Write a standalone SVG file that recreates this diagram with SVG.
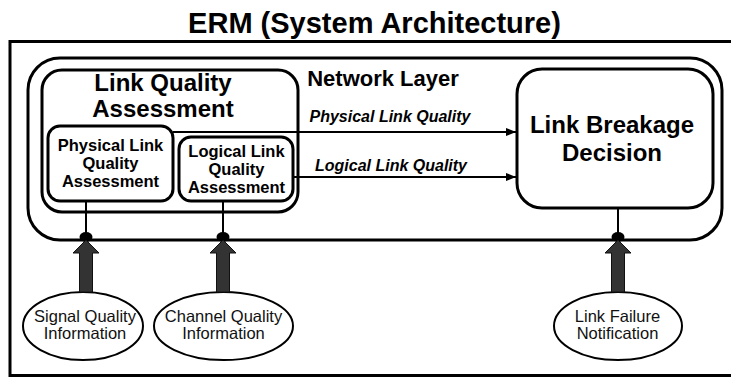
<svg xmlns="http://www.w3.org/2000/svg" width="731" height="378" viewBox="0 0 731 378">
  <style>
    .box { fill: #fff; stroke: #000; stroke-width: 3; }
    .frame { fill: none; stroke: #000; stroke-width: 3; }
    .link { fill: none; stroke: #000; stroke-width: 2; }
    .src { fill: #fff; stroke: #000; stroke-width: 2; }
    .feed { fill: #333; stroke: #111; stroke-width: 1; }
    .dot { fill: #000; }
    text { font-family: "Liberation Sans", Arial, sans-serif; fill: #000; text-anchor: middle; }
    .title { font-size: 29px; font-weight: bold; }
    .big { font-size: 24px; font-weight: bold; }
    .layer { font-size: 22px; font-weight: bold; }
    .small { font-size: 16.5px; font-weight: bold; }
    .flow { font-size: 16px; font-weight: bold; font-style: italic; }
    .info { font-size: 16.5px; fill: #111; }
  </style>
  <defs>
    <marker id="arrow" markerWidth="10" markerHeight="8" refX="10" refY="4" orient="auto" markerUnits="userSpaceOnUse">
      <path d="M0,0 L10,4 L0,8 Z" fill="#000"/>
    </marker>
    <path id="feedArrow" d="M-6.5,0 L-6.5,-39 L-13,-39 L0,-52 L13,-39 L6.5,-39 L6.5,0 Z"/>
  </defs>

  <text class="title" x="374.5" y="33">ERM (System Architecture)</text>

  <!-- outer system frame (runs past the right edge) -->
  <rect class="frame" x="10" y="41.5" width="740" height="334"/>

  <!-- network layer -->
  <g id="network-layer">
    <rect class="frame" x="28" y="58" width="694" height="182" rx="32" ry="32"/>
    <text class="layer" x="383" y="86">Network Layer</text>
  </g>

  <g id="link-quality-assessment">
    <rect class="box" x="42" y="70" width="256" height="142" rx="20" ry="20"/>
    <text class="big" x="163" y="91">Link Quality</text>
    <text class="big" x="163" y="117">Assessment</text>
  </g>

  <g id="physical-lqa">
    <rect class="box" x="48" y="126" width="125" height="75" rx="12" ry="12"/>
    <text class="small" x="110.5" y="151">Physical Link</text>
    <text class="small" x="110.5" y="169">Quality</text>
    <text class="small" x="110.5" y="187">Assessment</text>
  </g>

  <g id="logical-lqa">
    <rect class="box" x="179" y="137" width="114" height="64" rx="12" ry="12"/>
    <text class="small" x="236.5" y="157">Logical Link</text>
    <text class="small" x="236.5" y="175">Quality</text>
    <text class="small" x="236.5" y="193">Assessment</text>
  </g>

  <g id="link-breakage-decision">
    <rect class="box" x="517" y="69" width="196" height="139" rx="25" ry="25"/>
    <text class="big" x="612" y="133">Link Breakage</text>
    <text class="big" x="612" y="161">Decision</text>
  </g>

  <g id="signal-quality">
    <ellipse class="src" cx="83" cy="326" rx="60" ry="34"/>
    <text class="info" x="85" y="322">Signal Quality</text>
    <text class="info" x="85" y="339">Information</text>
  </g>

  <g id="channel-quality">
    <ellipse class="src" cx="223.5" cy="326" rx="69.5" ry="34"/>
    <text class="info" x="223.5" y="322">Channel Quality</text>
    <text class="info" x="223.5" y="339">Information</text>
  </g>

  <g id="link-failure">
    <ellipse class="src" cx="618" cy="326" rx="64" ry="34"/>
    <text class="info" x="617.5" y="322">Link Failure</text>
    <text class="info" x="617.5" y="339">Notification</text>
  </g>

  <g id="connectors">
    <line class="link" x1="173" y1="132" x2="516" y2="132" marker-end="url(#arrow)"/>
    <text class="flow" x="390" y="122">Physical Link Quality</text>
    <line class="link" x1="293" y1="177" x2="516" y2="177" marker-end="url(#arrow)"/>
    <text class="flow" x="391" y="171">Logical Link Quality</text>

    <line class="link" x1="86" y1="201" x2="86" y2="237"/>
    <line class="link" x1="223" y1="201" x2="223" y2="237"/>
    <line class="link" x1="618" y1="208" x2="618" y2="237"/>

    <ellipse class="dot" cx="86" cy="237" rx="6.5" ry="5"/>
    <ellipse class="dot" cx="223" cy="237" rx="6.5" ry="5"/>
    <ellipse class="dot" cx="618" cy="237" rx="6.5" ry="5"/>

    <use href="#feedArrow" class="feed" x="86" y="292"/>
    <use href="#feedArrow" class="feed" x="223" y="292"/>
    <use href="#feedArrow" class="feed" x="618" y="292"/>
  </g>
</svg>
